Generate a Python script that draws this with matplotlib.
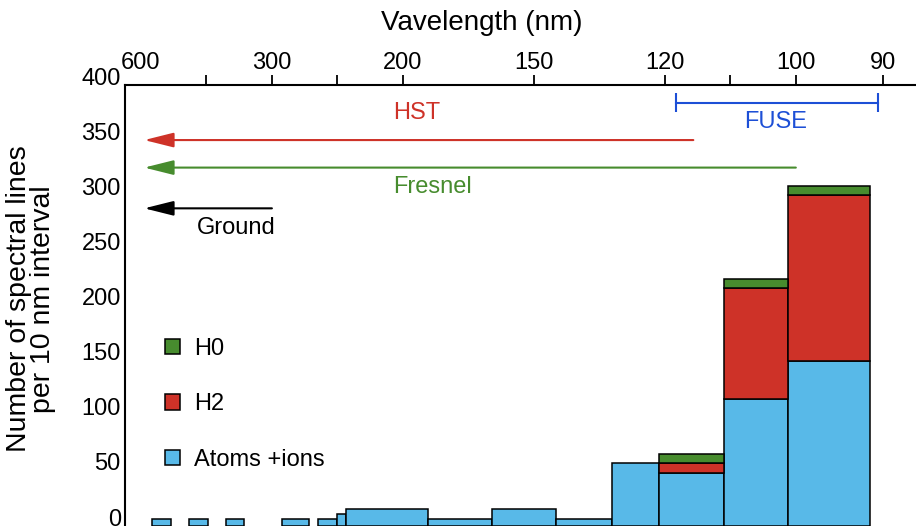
"""
Spectral line counts per 10 nm interval vs. wavelength, with instrument coverage.
"""

import matplotlib

matplotlib.use("Agg")
import matplotlib.pyplot as plt
import numpy as np
from matplotlib.patches import Patch

plt.rcParams["font.family"] = ["Liberation Sans", "DejaVu Sans"]

# wavelength bins (nm), long edge and short edge of each bar
bin_long_nm = [555, 440, 364, 289, 255, 240.5, 234, 188, 163, 144, 130.5, 121, 110, 101]
bin_short_nm = [488, 397, 336, 263, 240.5, 234, 188, 163, 144, 130.5, 121, 110, 101, 91.4]

atoms_ions = [6, 6, 6, 6, 6, 10, 15, 6, 15, 6, 57, 48, 115, 149]
h2 = [0, 0, 0, 0, 0, 0, 0, 0, 0, 0, 0, 9, 101, 151]
h0 = [0, 0, 0, 0, 0, 0, 0, 0, 0, 0, 0, 8, 8, 8]

tick_nm = [600, 300, 200, 150, 120, 100, 90]
tick_labels = ["600", "300", "200", "150", "120", "100", "90"]

# instrument coverage: (short nm, long nm, level)
hst_range = (115, 585, 350)
fresnel_range = (100, 585, 325)
ground_range = (300, 585, 288)
fuse_range = (90.5, 118, 384)

BLUE = "#58B9E8"
RED = "#CE3228"
GREEN = "#478C2E"
FUSE_BLUE = "#1D4FD6"


def inv(nm):
    return 1000.0 / np.asarray(nm, dtype=float)


fig = plt.figure(figsize=(9.16, 5.26), dpi=100)
ax = fig.add_axes([125 / 916, 0.5 / 526, 815 / 916, 440.5 / 526])

left = inv(bin_long_nm)
width = inv(bin_short_nm) - left
atoms = np.array(atoms_ions, float)
h2a = np.array(h2, float)
h0a = np.array(h0, float)

bar_kw = dict(align="edge", edgecolor="black", linewidth=1.1)
ax.bar(left, atoms, width, color=BLUE, **bar_kw)
m = h2a > 0
ax.bar(left[m], h2a[m], width[m], bottom=atoms[m], color=RED, **bar_kw)
m = h0a > 0
ax.bar(left[m], h0a[m], width[m], bottom=(atoms + h2a)[m], color=GREEN, **bar_kw)


def coverage_arrow(rng, color):
    short, long_, y = rng
    ax.annotate(
        "", xy=(inv(long_), y), xytext=(inv(short), y),
        arrowprops=dict(arrowstyle="-|>,head_length=1.8,head_width=0.45",
                        mutation_scale=10, color=color, lw=1.5,
                        shrinkA=0, shrinkB=0),
    )


coverage_arrow(hst_range, RED)
coverage_arrow(fresnel_range, GREEN)
coverage_arrow(ground_range, "black")

fs, fl, fy = fuse_range
ax.plot([inv(fs), inv(fl)], [fy, fy], color=FUSE_BLUE, lw=1.5)
ax.vlines([inv(fs), inv(fl)], fy - 8.7, fy + 8.7, color=FUSE_BLUE, lw=1.5)

ax.text(inv(193), 375, "HST", color=RED, fontsize=17, ha="center", va="center")
ax.text(inv(186), 307.5, "Fresnel", color=GREEN, fontsize=17, ha="center", va="center")
ax.text(inv(347), 270.5, "Ground", color="black", fontsize=17, ha="center", va="center")
ax.text(inv(102.7), 366, "FUSE", color=FUSE_BLUE, fontsize=17, ha="center", va="center")

handles = [
    Patch(facecolor=GREEN, edgecolor="black", linewidth=1.1),
    Patch(facecolor=RED, edgecolor="black", linewidth=1.1),
    Patch(facecolor=BLUE, edgecolor="black", linewidth=1.1),
]
ax.legend(handles, ["H0", "H2", "Atoms +ions"], loc="upper left",
          bbox_to_anchor=(0.049, 0.426), frameon=False, fontsize=17,
          handlelength=0.64, handleheight=0.64, handletextpad=0.6,
          labelspacing=1.42, borderpad=0, borderaxespad=0)

ax.set_xlim(inv(683), inv(84.5))
ax.set_ylim(0, 400)

ax.xaxis.tick_top()
ax.set_xticks(inv(tick_nm))
ax.set_xticklabels(tick_labels)
mid = 0.5 * (inv(tick_nm[:-1]) + inv(tick_nm[1:]))
ax.set_xticks(mid[[0, 1, 4]], minor=True)
ax.tick_params(axis="x", which="both", direction="out", length=7, width=1.3,
               top=True, bottom=False, labeltop=True, labelbottom=False,
               labelsize=17, pad=1)
ax.xaxis.get_major_ticks()[0].tick2line.set_visible(False)

ax.set_yticks(np.arange(0, 401, 50))
ax.tick_params(axis="y", length=0, labelsize=17, pad=3)
for lbl in ax.get_yticklabels():
    lbl.set_verticalalignment("baseline")

for side in ("bottom", "right"):
    ax.spines[side].set_visible(False)
for side in ("top", "left"):
    ax.spines[side].set_linewidth(1.5)

fig.text(482 / 916, 1 - 23 / 526, "Vavelength (nm)", fontsize=20,
         ha="center", va="center")
fig.text(31 / 916, 1 - 299 / 526, "Number of spectral lines\nper 10 nm interval",
         fontsize=20.5, rotation=90, ha="center", va="center",
         multialignment="center", linespacing=0.9)

fig.savefig("out.png", dpi=100)
